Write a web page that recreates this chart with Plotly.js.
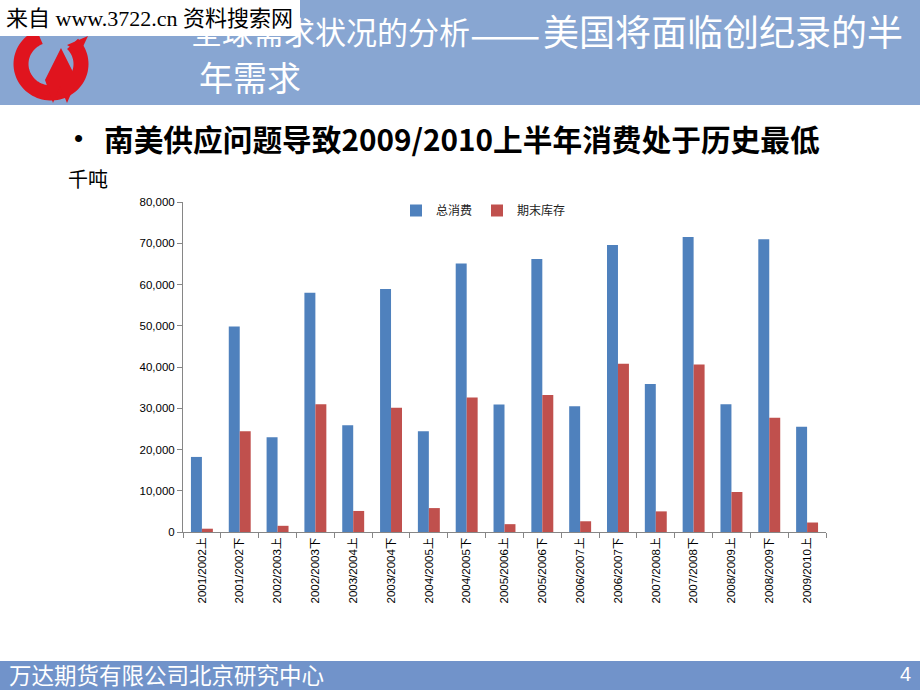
<!DOCTYPE html>
<html>
<head>
<meta charset="utf-8">
<script src="https://cdn.plot.ly/plotly-3.0.1.min.js"></script>
<style>html,body{margin:0;padding:0;background:#fff;}#chart{width:920px;height:690px;}</style>
</head>
<body>
<div id="chart"></div>
<script>
const categories = ["2001/2002上","2001/2002下","2002/2003上","2002/2003下","2003/2004上","2003/2004下","2004/2005上","2004/2005下","2005/2006上","2005/2006下","2006/2007上","2006/2007下","2007/2008上","2007/2008下","2008/2009上","2008/2009下","2009/2010上"];
const totalConsumption = [18200,49800,23000,58000,25900,58900,24400,65100,30900,66200,30500,69600,35900,71500,31000,71000,25500];
const endingStocks = [800,24400,1500,31000,5100,30100,5800,32600,1900,33200,2600,40800,5000,40600,9700,27700,2300];
const seriesNames = ["总消费","期末库存"];
const yTickVals = [0,10000,20000,30000,40000,50000,60000,70000,80000];

const W = 920, H = 690;
const M = {l:183, r:94, t:202, b:158};
const PW = W - M.l - M.r, PH = H - M.t - M.b;
const px = v => (v - M.l) / PW;
const py = v => (H - M.b - v) / PH;

function ptsPath(pts, close){
  let s = pts.map((p,i)=> (i? 'L ':'M ') + px(p[0]).toFixed(5) + ',' + py(p[1]).toFixed(5)).join(' ');
  return close ? s + ' Z' : s;
}
// logo ring arc (decoration)
const ringPts = [];
for (let a = -112; a >= -407; a -= 4) {
  const r = a*Math.PI/180;
  ringPts.push([51 + 30*Math.cos(r), 64 + 29*Math.sin(r)]);
}
const wPts = [[61,48],[77,80],[67,103],[60,86],[53,103],[45,80]];
const tipPts = [[67,45],[88,36],[80,53]];

const cjk = "Noto Sans CJK SC";
const traces = [
  {type:'bar', name:seriesNames[0], x:categories, y:totalConsumption, marker:{color:'#4F81BD'}},
  {type:'bar', name:seriesNames[1], x:categories, y:endingStocks, marker:{color:'#C0504D'}}
];

const layout = {
  width:W, height:H,
  margin:{l:M.l, r:M.r, t:M.t, b:M.b, pad:0},
  paper_bgcolor:'#ffffff', plot_bgcolor:'#ffffff',
  barmode:'group', bargap:0.42, bargroupgap:0,
  font:{family:"Liberation Sans, "+cjk, size:12, color:'#000'},
  showlegend:true,
  legend:{orientation:'h', x:px(396), y:py(196), xanchor:'left', yanchor:'top',
    font:{family:"Liberation Sans, "+cjk, size:12, color:'#222'}, itemwidth:30, bgcolor:'rgba(0,0,0,0)', traceorder:'normal'},
  xaxis:{type:'category', showline:true, linecolor:'#868686', linewidth:1, ticks:'outside', ticklen:5,
    tickcolor:'#868686', tickson:'boundaries', tickangle:-90, showgrid:false, zeroline:false,
    tickfont:{family:"Liberation Sans, "+cjk, size:11.5, color:'#000'}},
  yaxis:{range:[0,80000], tickvals:yTickVals, tickformat:',d', showline:true, linecolor:'#868686', linewidth:1,
    ticks:'outside', ticklen:5, tickcolor:'#868686', showgrid:false, zeroline:false,
    tickfont:{family:"Liberation Sans, "+cjk, size:11.5, color:'#000'}},
  shapes:[
    {type:'rect', xref:'paper', yref:'paper', x0:px(0), x1:px(920), y0:py(0), y1:py(105), fillcolor:'#88A6D2', line:{width:0}, layer:'below'},
    {type:'rect', xref:'paper', yref:'paper', x0:px(0), x1:px(920), y0:py(661), y1:py(690), fillcolor:'#7193CA', line:{width:0}, layer:'below'},
    {type:'path', xref:'paper', yref:'paper', path:ptsPath(ringPts,false), line:{color:'#E0141E', width:15}, layer:'below'},
    {type:'path', xref:'paper', yref:'paper', path:ptsPath(wPts,true), fillcolor:'#E0141E', line:{width:0}, layer:'below'},
    {type:'path', xref:'paper', yref:'paper', path:ptsPath(tipPts,true), fillcolor:'#E0141E', line:{width:0}, layer:'below'},
    {type:'rect', xref:'paper', yref:'paper', x0:px(0), x1:px(300), y0:py(0), y1:py(36), fillcolor:'#ffffff', line:{width:0}, layer:'below'}
  ],
  annotations:[
    {xref:'paper', yref:'paper', x:px(189), y:py(30), xanchor:'left', yanchor:'middle', showarrow:false,
      text:'全球需求状况的分析', font:{family:cjk, size:31, color:'#ffffff'}},
    {xref:'paper', yref:'paper', x:px(505), y:py(31), xanchor:'center', yanchor:'middle', showarrow:false,
      text:'——', font:{family:cjk, size:42, color:'#ffffff'}},
    {xref:'paper', yref:'paper', x:px(905), y:py(30), xanchor:'right', yanchor:'middle', showarrow:false,
      text:'美国将面临创纪录的半', font:{family:cjk, size:36, color:'#ffffff'}},
    {xref:'paper', yref:'paper', x:px(197), y:py(76), xanchor:'left', yanchor:'middle', showarrow:false,
      text:'年需求', font:{family:cjk, size:34, color:'#ffffff'}},
    {xref:'paper', yref:'paper', x:px(4), y:py(18), xanchor:'left', yanchor:'middle', showarrow:false,
      text:'来自 www.3722.cn 资料搜索网', font:{family:"Liberation Serif, "+cjk, size:22, color:'#000'}},
    {xref:'paper', yref:'paper', x:px(72), y:py(138), xanchor:'left', yanchor:'middle', showarrow:false,
      text:'•', font:{family:"Liberation Sans", size:26, color:'#000'}},
    {xref:'paper', yref:'paper', x:px(102), y:py(138), xanchor:'left', yanchor:'middle', showarrow:false,
      text:'<b>南美供应问题导致2009/2010上半年消费处于历史最低</b>', font:{family:cjk, size:29.7, color:'#000'}},
    {xref:'paper', yref:'paper', x:px(66), y:py(178), xanchor:'left', yanchor:'middle', showarrow:false,
      text:'千吨', font:{family:cjk, size:20, color:'#000'}},
    {xref:'paper', yref:'paper', x:px(7), y:py(674), xanchor:'left', yanchor:'middle', showarrow:false,
      text:'万达期货有限公司北京研究中心', font:{family:cjk, size:22.5, color:'#ffffff'}},
    {xref:'paper', yref:'paper', x:px(913), y:py(674), xanchor:'right', yanchor:'middle', showarrow:false,
      text:'4', font:{family:"Liberation Sans", size:20, color:'#ffffff'}}
  ]
};

Plotly.newPlot('chart', traces, layout, {displayModeBar:false, staticPlot:true});
</script>
</body>
</html>
